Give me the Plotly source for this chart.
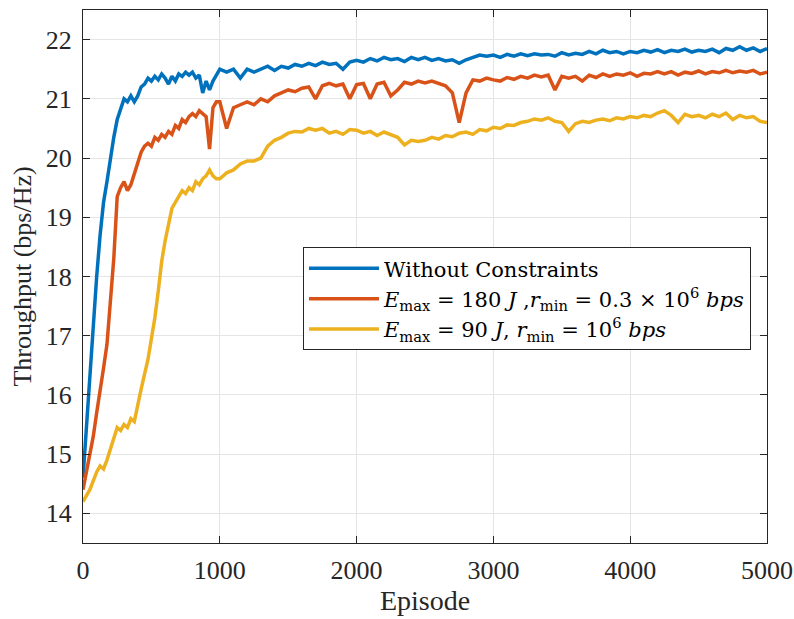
import plotly.graph_objects as go

episodes = list(range(0, 1000, 25)) + list(range(1000, 5001, 50))

without_constraints = [
    14.6, 15.5, 16.3, 17.3, 18.0, 18.7, 19.25, 19.6, 20.0, 20.35,
    20.65, 20.85, 21.0, 20.95, 21.05, 20.95, 21.05, 21.2, 21.25, 21.35,
    21.3, 21.38, 21.32, 21.42, 21.35, 21.25, 21.38, 21.3, 21.42, 21.38,
    21.45, 21.4, 21.45, 21.35, 21.4, 21.1, 21.3, 21.15, 21.3, 21.4,
    21.5, 21.45, 21.5, 21.35, 21.5, 21.45, 21.5, 21.55, 21.48, 21.55,
    21.52, 21.58, 21.55, 21.6, 21.56, 21.62, 21.58, 21.6, 21.5, 21.62,
    21.65, 21.62, 21.68, 21.64, 21.7, 21.66, 21.68, 21.63, 21.7, 21.66,
    21.7, 21.65, 21.68, 21.64, 21.66, 21.6, 21.66, 21.7, 21.74, 21.72,
    21.74, 21.7, 21.75, 21.72, 21.76, 21.73, 21.76, 21.74, 21.75, 21.72,
    21.78, 21.74, 21.77, 21.75, 21.8, 21.76, 21.82, 21.78, 21.8, 21.76,
    21.8, 21.78, 21.82, 21.79, 21.83, 21.78, 21.82, 21.8, 21.84, 21.79,
    21.82, 21.8, 21.84, 21.78, 21.85, 21.82, 21.88, 21.82, 21.86, 21.8,
    21.85,
]

emax180 = [
    14.4, 14.7, 15.0, 15.3, 15.7, 16.05, 16.45, 16.85, 17.55, 18.3,
    19.35, 19.5, 19.6, 19.45, 19.55, 19.75, 19.9, 20.1, 20.2, 20.25,
    20.2, 20.35, 20.3, 20.4, 20.35, 20.45, 20.4, 20.55, 20.5, 20.65,
    20.6, 20.7, 20.75, 20.7, 20.8, 20.75, 20.7, 20.15, 20.85, 20.95,
    20.95, 20.5, 20.85, 20.9, 20.95, 20.9, 21.0, 20.95, 21.05, 21.1,
    21.15, 21.12, 21.18, 21.2, 21.0, 21.22, 21.26, 21.22, 21.25, 21.0,
    21.24, 21.26, 21.0, 21.25, 21.28, 21.05, 21.15, 21.28, 21.25, 21.3,
    21.27, 21.3, 21.26, 21.22, 21.1, 20.6, 21.1, 21.32, 21.3, 21.35,
    21.32, 21.3, 21.36, 21.33, 21.38, 21.35, 21.4, 21.37, 21.4, 21.15,
    21.38, 21.35, 21.38, 21.3, 21.4, 21.36, 21.42, 21.38, 21.42, 21.4,
    21.44, 21.38, 21.43, 21.42, 21.46, 21.42, 21.46, 21.4, 21.45, 21.43,
    21.47, 21.42, 21.46, 21.44, 21.48, 21.44, 21.47, 21.45, 21.48, 21.42,
    21.45,
]

emax90 = [
    14.2, 14.3, 14.4, 14.55, 14.7, 14.8, 14.75, 14.9, 15.1, 15.25,
    15.45, 15.4, 15.5, 15.45, 15.6, 15.55, 15.85, 16.1, 16.35, 16.6,
    16.95, 17.3, 17.75, 18.25, 18.6, 18.85, 19.15, 19.25, 19.35, 19.45,
    19.4, 19.5, 19.45, 19.6, 19.55, 19.65, 19.7, 19.8, 19.7, 19.65,
    19.65, 19.75, 19.8, 19.9, 19.95, 19.95, 20.0, 20.2, 20.3, 20.35,
    20.42, 20.45, 20.44, 20.5, 20.47, 20.5, 20.42, 20.45, 20.4, 20.48,
    20.47, 20.42, 20.45, 20.38, 20.44, 20.4, 20.35, 20.22, 20.3, 20.28,
    20.3, 20.35, 20.32, 20.38, 20.36, 20.42, 20.44, 20.4, 20.48, 20.46,
    20.52, 20.5, 20.56, 20.55, 20.6, 20.62, 20.66, 20.64, 20.68, 20.62,
    20.6, 20.45, 20.58, 20.62, 20.6, 20.64, 20.66, 20.63, 20.68, 20.66,
    20.7, 20.68, 20.72, 20.7, 20.76, 20.8, 20.72, 20.6, 20.74, 20.7,
    20.72, 20.68, 20.74, 20.7, 20.76, 20.65, 20.72, 20.68, 20.7, 20.62,
    20.6,
]

series_names = [
    "Without Constraints",
    "<i>E</i><sub>max</sub> = 180 <i>J</i> ,<i>r</i><sub>min</sub> = 0.3 × 10<sup>6</sup> <i>bps</i>",
    "<i>E</i><sub>max</sub> = 90 <i>J</i>, <i>r</i><sub>min</sub> = 10<sup>6</sup> <i>bps</i>",
]
colors = ["#0072BD", "#D95319", "#EDB120"]
x_ticks = [0, 1000, 2000, 3000, 4000, 5000]
y_ticks = [14, 15, 16, 17, 18, 19, 20, 21, 22]

fig = go.Figure()
for name, vals, col in zip(series_names, [without_constraints, emax180, emax90], colors):
    fig.add_trace(go.Scatter(x=episodes, y=vals, mode="lines", name=name,
                             line=dict(color=col, width=3.5)))

axis_common = dict(
    showline=True, linecolor="#262626", linewidth=1, mirror="ticks",
    ticks="inside", ticklen=7, tickcolor="#262626",
    showgrid=True, gridcolor="#E5E5E5", gridwidth=1, zeroline=False,
    automargin=False,
    tickfont=dict(family="Liberation Serif", size=26, color="#262626"),
)

fig.update_layout(
    width=794, height=619,
    margin=dict(l=83, r=27, t=10, b=76),
    paper_bgcolor="white", plot_bgcolor="white",
    font=dict(family="Liberation Serif", color="#262626"),
    xaxis=dict(range=[0, 5000], tickvals=x_ticks,
               title=dict(text="Episode", font=dict(family="Liberation Serif", size=28), standoff=4),
               ticklabelstandoff=4, **axis_common),
    yaxis=dict(range=[13.5, 22.5], tickvals=y_ticks,
               title=dict(text="Throughput (bps/Hz)", font=dict(family="Liberation Serif", size=26), standoff=6),
               ticklabelstandoff=5, **axis_common),
    legend=dict(x=0.3216, y=0.555, xanchor="left", yanchor="top",
                bgcolor="white", bordercolor="#262626", borderwidth=1,
                font=dict(family="DejaVu Serif", size=21, color="#000000"),
                itemwidth=70, tracegroupgap=0),
    showlegend=True,
)

fig.write_html("out.html")
